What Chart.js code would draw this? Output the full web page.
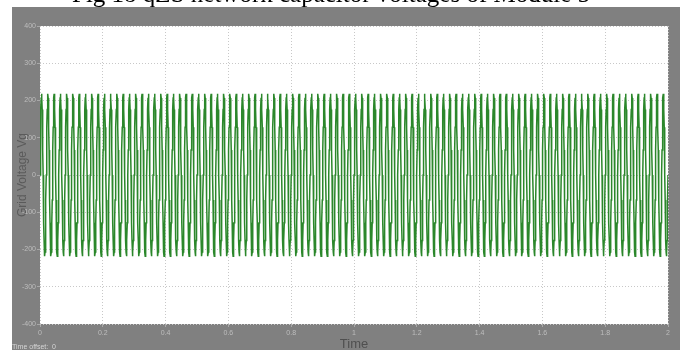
<!DOCTYPE html>
<html>
<head>
<meta charset="utf-8">
<script src="https://cdn.jsdelivr.net/npm/chart.js@4"></script>
<style>
  html, body { margin: 0; padding: 0; background: #fff; }
  #wrap { width: 692px; height: 350px; position: relative; }
</style>
</head>
<body>
<div id="wrap"><canvas id="scope"></canvas></div>
<script>

// one 50 Hz cycle of the grid voltage (peak about 218 V)
var cycleValues = [0, 67, 128, 176, 207, 218, 207, 176, 128, 67,
                   0, -67, -128, -176, -207, -218, -207, -176, -128, -67];
var period = 0.02;      // seconds per cycle
var cycleCount = 100;   // cycles shown between 0 and 2 s

var yTicks = [-400, -300, -200, -100, 0, 100, 200, 300, 400];
var xTicks = [0, 0.2, 0.4, 0.6, 0.8, 1, 1.2, 1.4, 1.6, 1.8, 2];

var caption = "Fig 18 qZS network capacitor voltages of Module 5";
var yTitle = "Grid Voltage Vg";
var xTitle = "Time";
var offsetText = "Time offset:  0";

function buildPoints(){
	var pts = [];
	var step = period / cycleValues.length;
	for (var c = 0; c < cycleCount; c++) {
		for (var k = 0; k < cycleValues.length; k++) {
			pts.push({ x: (c * cycleValues.length + k) * step, y: cycleValues[k] });
		}
	}
	pts.push({ x: cycleCount * period, y: cycleValues[0] });
	return pts;
}

function plainNumber(v){
	return String(Number(v.toFixed(1)));
}

// gray scope frame, white plot area, caption and offset note
var scopeFrame = {
	id: 'scopeFrame',
	beforeDraw: function(chart){
		var ctx = chart.ctx, a = chart.chartArea;
		ctx.save();
		ctx.fillStyle = '#ffffff';
		ctx.fillRect(0, 0, chart.width, chart.height);
		ctx.fillStyle = '#808080';
		ctx.fillRect(12, 7, 668, 343);
		ctx.fillStyle = '#ffffff';
		ctx.fillRect(a.left, a.top, a.right - a.left, a.bottom - a.top);
		ctx.restore();
	},
	afterDraw: function(chart){
		var ctx = chart.ctx;
		ctx.save();
		ctx.fillStyle = '#000000';
		ctx.font = '25px "Liberation Serif"';
		ctx.textAlign = 'center';
		ctx.textBaseline = 'alphabetic';
		ctx.fillText(caption, 331, 2);
		ctx.fillStyle = '#d6d6d6';
		ctx.font = '7px "Liberation Sans"';
		ctx.textAlign = 'left';
		ctx.fillText(offsetText, 12, 349);
		ctx.restore();
	}
};

var ctx = document.getElementById('scope');
var scopeChart = new Chart(ctx, {
	type: 'line',
	data: {
		datasets: [{
			data: buildPoints(),
			borderColor: '#2b872b',
			borderWidth: 1.5,
			pointRadius: 0,
			tension: 0,
			fill: false
		}]
	},
	options: {
		responsive: true,
		maintainAspectRatio: false,
		animation: false,
		parsing: false,
		normalized: true,
		layout: { padding: { left: 12, top: 26, right: 24, bottom: 0 } },
		plugins: { legend: { display: false }, tooltip: { enabled: false } },
		scales: {
			x: {
				type: 'linear',
				min: xTicks[0],
				max: xTicks[xTicks.length - 1],
				afterFit: function(s){ s.height = 26; },
				afterBuildTicks: function(s){ s.ticks = xTicks.map(function(v){ return { value: v }; }); },
				ticks: { color: '#bdbdbd', font: { family: 'Liberation Sans', size: 7 }, padding: 2, maxRotation: 0, autoSkip: false, callback: plainNumber },
				grid: { color: '#c8c8c8', tickColor: '#a8a8a8', tickLength: 3 },
				border: { display: false, dash: [1, 2] },
				title: { display: true, text: xTitle, color: '#4f4f4f', font: { family: 'Liberation Sans', size: 13 }, padding: { top: 0, bottom: -2 } }
			},
			y: {
				min: yTicks[0],
				max: yTicks[yTicks.length - 1],
				afterFit: function(s){ s.width = 28; },
				afterBuildTicks: function(s){ s.ticks = yTicks.map(function(v){ return { value: v }; }); },
				ticks: { color: '#bdbdbd', font: { family: 'Liberation Sans', size: 7 }, padding: 1, autoSkip: false, callback: plainNumber },
				grid: { color: '#c8c8c8', tickColor: '#a8a8a8', tickLength: 3 },
				border: { display: false, dash: [1, 2] },
				title: { display: true, text: yTitle, color: '#5a5a5a', font: { family: 'Liberation Sans', size: 12 }, padding: { top: 3, bottom: 2 } }
			}
		}
	},
	plugins: [scopeFrame]
});

</script>
</body>
</html>
